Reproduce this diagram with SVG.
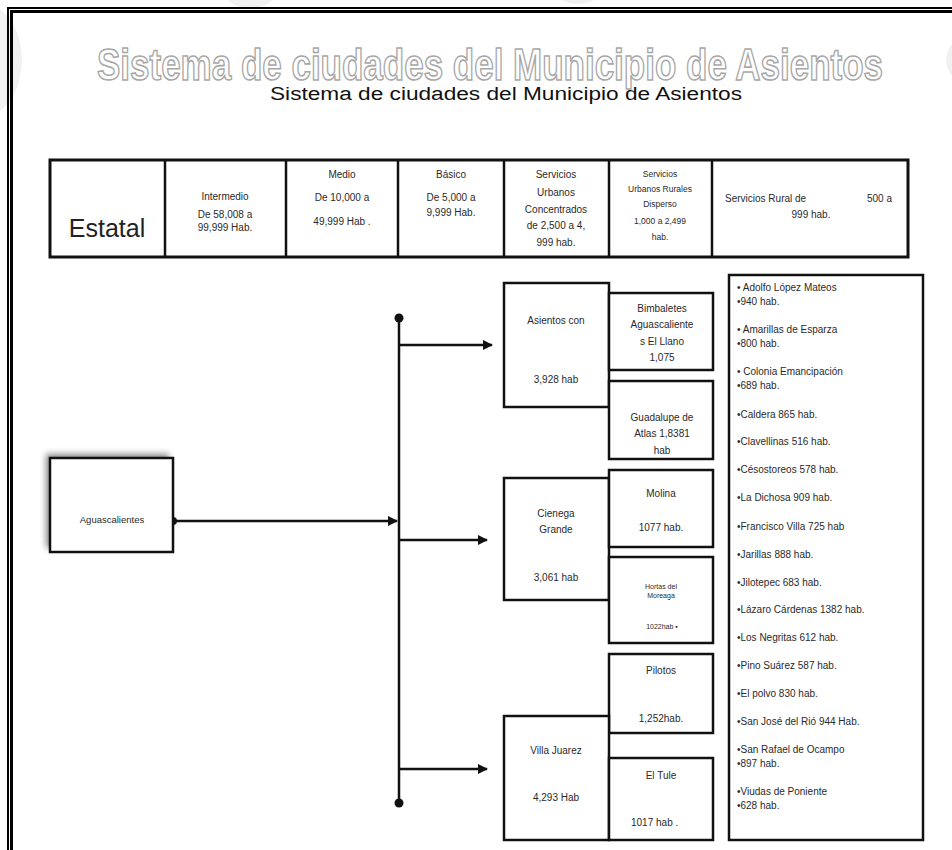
<svg xmlns="http://www.w3.org/2000/svg" width="952" height="850" viewBox="0 0 952 850">
<defs>
<style>
.t{font-family:"Liberation Sans",Arial,sans-serif;fill:#2a2a2a;font-size:10px}
.c{text-anchor:middle}
.box{fill:#fff;stroke:#111;stroke-width:2.5}
.ln{stroke:#111;stroke-width:2.5;fill:none}
.wm{fill:#f1f1f1}
</style>
<marker id="ah" viewBox="0 0 10 10" refX="9" refY="5" markerWidth="4" markerHeight="4" orient="auto" markerUnits="strokeWidth">
<path d="M0,0 L10,5 L0,10 z" fill="#111"/>
</marker>
<filter id="sh" x="-20%" y="-20%" width="140%" height="140%">
<feGaussianBlur stdDeviation="3"/>
</filter>
</defs>
<rect width="952" height="850" fill="#fff"/>
<g id="watermark">
<ellipse class="wm" cx="-20" cy="60" rx="42" ry="58"/>
<ellipse class="wm" cx="250" cy="-12" rx="28" ry="20"/>
<ellipse class="wm" cx="578" cy="-14" rx="26" ry="18"/>
<ellipse class="wm" cx="970" cy="60" rx="24" ry="24"/>
</g>
<g id="frame">
<path d="M8,850 V8 H952" fill="none" stroke="#000" stroke-width="2"/>
<path d="M11.5,850 V11.5 H952" fill="none" stroke="#000" stroke-width="3"/>
</g>
<g id="title">
<text x="97" y="80" textLength="786" lengthAdjust="spacingAndGlyphs" style="font-family:'Liberation Sans',Arial,sans-serif;font-size:44px;font-weight:bold;fill:#fff;stroke:#a8a8a8;stroke-width:1.6">Sistema de ciudades del Municipio de Asientos</text>
<text x="270" y="100" textLength="472" lengthAdjust="spacingAndGlyphs" style="font-family:'Liberation Sans',Arial,sans-serif;font-size:18px;fill:#111">Sistema de ciudades del Municipio de Asientos</text>
</g>
<g id="header">
<rect x="50" y="160" width="858" height="97" fill="#fff" stroke="#111" stroke-width="3"/>
<path class="ln" d="M165,160 V257 M286,160 V257 M398,160 V257 M504,160 V257 M609,160 V257 M712,160 V257" stroke-width="3"/>
<text class="t" x="107" y="237" style="font-size:25px;text-anchor:middle;fill:#222">Estatal</text>
<text class="t c" x="225" y="200">Intermedio</text>
<text class="t c" x="225" y="218">De 58,008 a</text>
<text class="t c" x="225" y="231">99,999 Hab.</text>
<text class="t c" x="342" y="178">Medio</text>
<text class="t c" x="342" y="201">De 10,000 a</text>
<text class="t c" x="342" y="225">49,999 Hab .</text>
<text class="t c" x="451" y="178">Básico</text>
<text class="t c" x="451" y="201">De 5,000 a</text>
<text class="t c" x="451" y="216">9,999 Hab.</text>
<text class="t c" x="556" y="178">Servicios</text>
<text class="t c" x="556" y="196">Urbanos</text>
<text class="t c" x="556" y="213">Concentrados</text>
<text class="t c" x="556" y="229">de 2,500 a  4,</text>
<text class="t c" x="556" y="246">999 hab.</text>
<text class="t c" x="660" y="177" style="font-size:8.5px">Servicios</text>
<text class="t c" x="660" y="192" style="font-size:8.5px">Urbanos Rurales</text>
<text class="t c" x="660" y="207" style="font-size:8.5px">Disperso</text>
<text class="t c" x="660" y="224" style="font-size:8.5px">1,000 a 2,499</text>
<text class="t c" x="660" y="240" style="font-size:8.5px">hab.</text>
<text class="t" x="725" y="202">Servicios Rural de</text>
<text class="t" x="867" y="202">500 a</text>
<text class="t c" x="811" y="218">999 hab.</text>
</g>
<g id="connectors">
<path class="ln" d="M173,521 H397" marker-end="url(#ah)"/>
<path class="ln" d="M399,318 V803"/>
<path class="ln" d="M399,345 H492" marker-end="url(#ah)"/>
<path class="ln" d="M399,540 H487" marker-end="url(#ah)"/>
<path class="ln" d="M399,769 H487" marker-end="url(#ah)"/>
<circle cx="399" cy="318" r="4.5" fill="#111"/>
<circle cx="399" cy="803" r="4.5" fill="#111"/>
<circle cx="173" cy="521" r="4" fill="#111"/>
</g>
<g id="aguascalientes">
<rect x="46" y="454" width="123" height="94" fill="#888" filter="url(#sh)"/>
<rect class="box" x="50" y="458" width="123" height="94"/>
<text class="t c" x="112" y="523" style="font-size:9.5px">Aguascalientes</text>
</g>
<g id="asientos">
<rect class="box" x="504" y="283" width="105" height="124"/>
<text class="t c" x="556" y="324">Asientos con</text>
<text class="t c" x="556" y="383">3,928 hab</text>
</g>
<g id="bimbaletes">
<rect class="box" x="609" y="293" width="104" height="77"/>
<text class="t c" x="662" y="312">Bimbaletes</text>
<text class="t c" x="662" y="328">Aguascaliente</text>
<text class="t c" x="662" y="345">s El Llano</text>
<text class="t c" x="662" y="361">1,075</text>
</g>
<g id="guadalupe">
<rect class="box" x="609" y="381" width="104" height="78"/>
<text class="t c" x="662" y="421">Guadalupe de</text>
<text class="t c" x="662" y="437">Atlas 1,8381</text>
<text class="t c" x="662" y="454">hab</text>
</g>
<g id="cienega">
<rect class="box" x="504" y="478" width="105" height="122"/>
<text class="t c" x="556" y="517">Cienega</text>
<text class="t c" x="556" y="533">Grande</text>
<text class="t c" x="556" y="581">3,061 hab</text>
</g>
<g id="molina">
<rect class="box" x="609" y="470" width="104" height="77"/>
<text class="t c" x="661" y="497">Molina</text>
<text class="t c" x="661" y="531">1077 hab.</text>
</g>
<g id="hortas">
<rect class="box" x="609" y="557" width="104" height="86"/>
<text class="t c" x="661" y="589" style="font-size:7px">Hortas del</text>
<text class="t c" x="661" y="598" style="font-size:7px">Moreaga</text>
<text class="t c" x="662" y="629" style="font-size:7px">1022hab ▪</text>
</g>
<g id="pilotos">
<rect class="box" x="609" y="654" width="104" height="79"/>
<text class="t c" x="661" y="674">Pilotos</text>
<text class="t c" x="661" y="722">1,252hab.</text>
</g>
<g id="villajuarez">
<rect class="box" x="504" y="716" width="105" height="124"/>
<text class="t c" x="556" y="754">Villa Juarez</text>
<text class="t c" x="556" y="801">4,293 Hab</text>
</g>
<g id="eltule">
<rect class="box" x="609" y="758" width="104" height="82"/>
<text class="t c" x="661" y="779">El Tule</text>
<text class="t" x="631" y="826">1017 hab     .</text>
</g>
<g id="rurales">
<rect class="box" x="729" y="275" width="194" height="565"/>
<text class="t" x="737" y="291">• Adolfo López Mateos</text>
<text class="t" x="737" y="305">•940 hab.</text>
<text class="t" x="737" y="333">• Amarillas de Esparza</text>
<text class="t" x="737" y="347">•800 hab.</text>
<text class="t" x="737" y="375">• Colonia Emancipación</text>
<text class="t" x="737" y="389">•689 hab.</text>
<text class="t" x="737" y="418">•Caldera 865 hab.</text>
<text class="t" x="737" y="445">•Clavellinas 516 hab.</text>
<text class="t" x="737" y="473">•Césostoreos 578 hab.</text>
<text class="t" x="737" y="501">•La Dichosa 909 hab.</text>
<text class="t" x="737" y="530">•Francisco Villa 725 hab</text>
<text class="t" x="737" y="558">•Jarillas 888 hab.</text>
<text class="t" x="737" y="586">•Jilotepec  683 hab.</text>
<text class="t" x="737" y="613">•Lázaro Cárdenas 1382 hab.</text>
<text class="t" x="737" y="641">•Los Negritas 612 hab.</text>
<text class="t" x="737" y="669">•Pino Suárez 587 hab.</text>
<text class="t" x="737" y="697">•El polvo 830 hab.</text>
<text class="t" x="737" y="725">•San José del Rió 944 Hab.</text>
<text class="t" x="737" y="753">•San Rafael de Ocampo</text>
<text class="t" x="737" y="767">•897 hab.</text>
<text class="t" x="737" y="795">•Viudas de Poniente</text>
<text class="t" x="737" y="809">•628 hab.</text>
</g>
</svg>
